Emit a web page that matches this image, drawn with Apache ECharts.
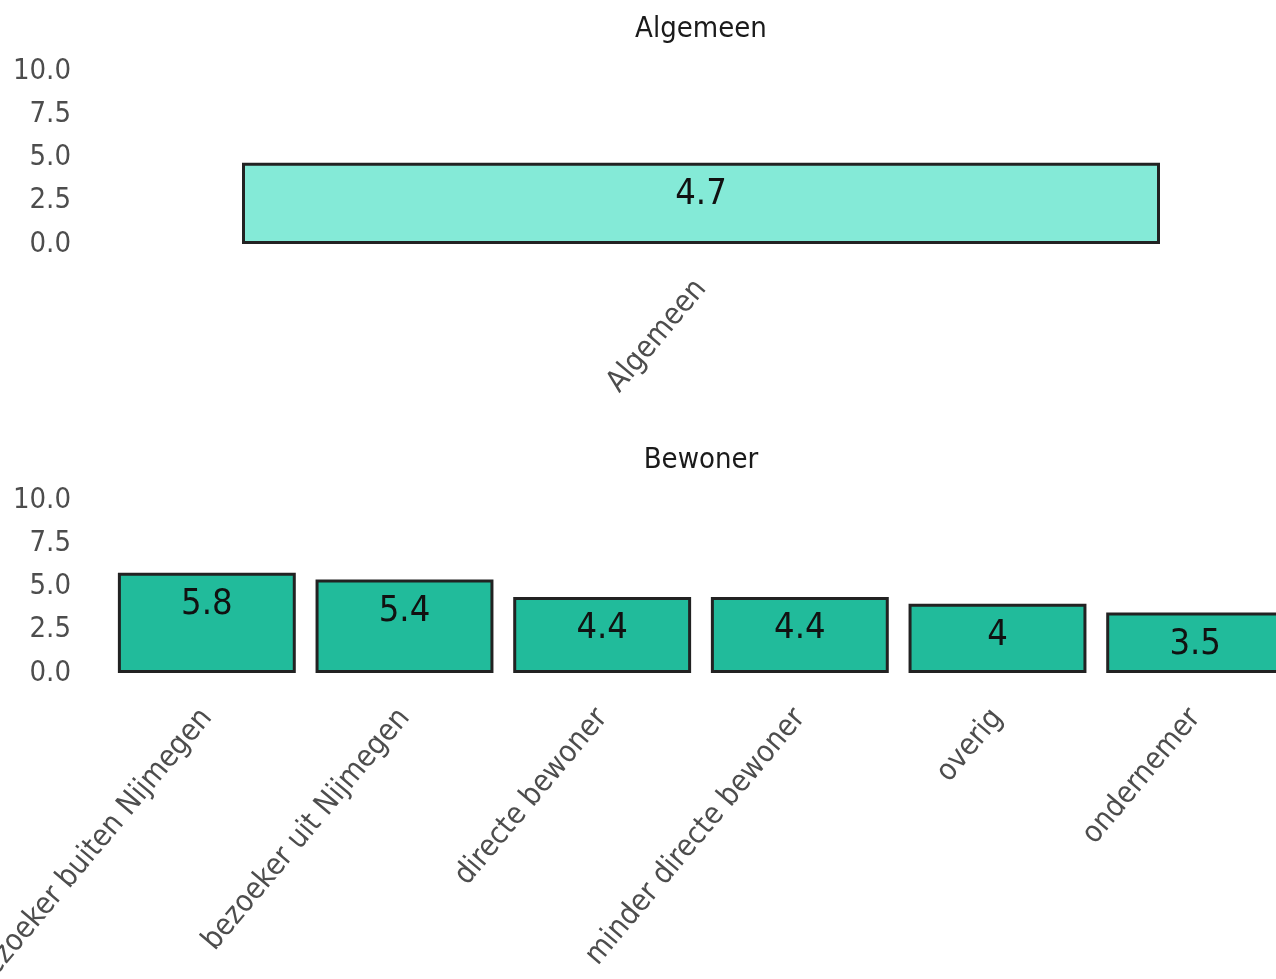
<!DOCTYPE html>
<html>
<head>
<meta charset="utf-8">
<script src="https://cdn.jsdelivr.net/npm/echarts@6/dist/echarts.min.js"></script>
<style>
  html, body { margin: 0; padding: 0; background: #fff; }
  #chart { width: 1276px; height: 979px; }
</style>
</head>
<body>
<div id="chart"></div>
<script>
// data
const topCategories = ["Algemeen"];
const topValues = [4.7];
const bottomCategories = [
  "bezoeker buiten Nijmegen",
  "bezoeker uit Nijmegen",
  "directe bewoner",
  "minder directe bewoner",
  "overig",
  "ondernemer"
];
const bottomValues = [5.8, 5.4, 4.4, 4.4, 4, 3.5];
const panelTitles = ["Algemeen", "Bewoner"];

const FONT = "'Liberation Sans Narrow', 'DejaVu Sans Condensed', 'Liberation Sans', sans-serif";

const chart = echarts.init(document.getElementById("chart"));

// shared axis styles
const catAxis = (gridIndex, data) => ({
  type: "category",
  gridIndex: gridIndex,
  data: data,
  axisLine: { show: false },
  axisTick: { show: false },
  axisLabel: {
    interval: 0,
    rotate: 50,
    margin: 40,
    fontSize: 30,
    fontFamily: FONT,
    color: "#4d4d4d",
  },
});
const valAxis = (gridIndex) => ({
  type: "value",
  gridIndex: gridIndex,
  min: 0,
  max: 10,
  interval: 2.5,
  axisLine: { show: false },
  axisTick: { show: false },
  splitLine: { show: false },
  axisLabel: {
    margin: 37,
    fontSize: 29,
    fontFamily: FONT,
    color: "#4d4d4d",
    formatter: (v) => v.toFixed(1),
  },
});
const barLabel = {
  show: true,
  position: "insideTop",
  distance: 14,
  fontSize: 36,
  fontFamily: FONT,
  color: "#111",
};

const option = {
  backgroundColor: "#ffffff",
  animation: false,
  title: [
    {
      text: panelTitles[0],
      left: 696,
      top: 10,
      textAlign: "center",
      textStyle: { fontFamily: FONT, fontSize: 29, fontWeight: "normal", color: "#1a1a1a" },
    },
    {
      text: panelTitles[1],
      left: 696,
      top: 441,
      textAlign: "center",
      textStyle: { fontFamily: FONT, fontSize: 29, fontWeight: "normal", color: "#1a1a1a" },
    },
  ],
  grid: [
    { left: 108, top: 71, width: 1186, height: 173, containLabel: false, outerBoundsMode: "none" },
    { left: 108, top: 500, width: 1186, height: 173, containLabel: false, outerBoundsMode: "none" },
  ],
  xAxis: [catAxis(0, topCategories), catAxis(1, bottomCategories)],
  yAxis: [valAxis(0), valAxis(1)],
  series: [
    {
      type: "bar",
      xAxisIndex: 0,
      yAxisIndex: 0,
      data: topValues,
      barWidth: 918,
      itemStyle: { color: "#84ead7", borderColor: "#222", borderWidth: 3 },
      label: barLabel,
    },
    {
      type: "bar",
      xAxisIndex: 1,
      yAxisIndex: 1,
      data: bottomValues,
      barCategoryGap: "10%",
      itemStyle: { color: "#21bb9b", borderColor: "#222", borderWidth: 3 },
      label: barLabel,
    },
  ],
};

chart.setOption(option);
</script>
</body>
</html>
